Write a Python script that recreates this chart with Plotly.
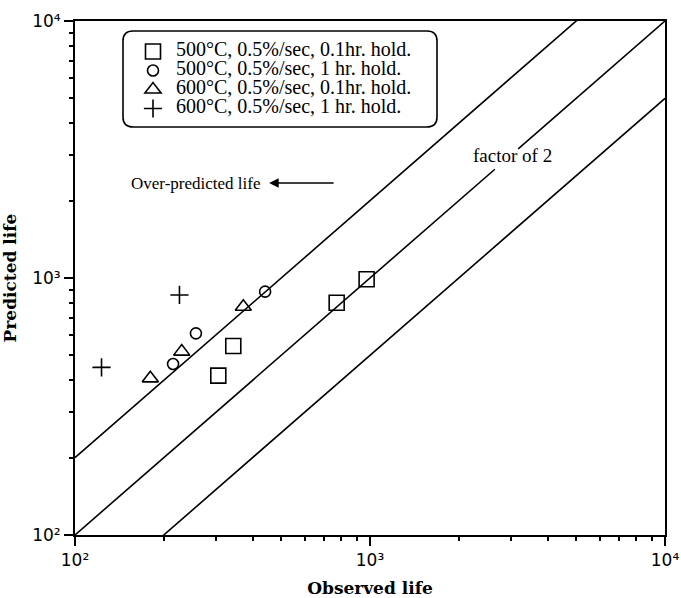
import plotly.graph_objects as go
import numpy as np

# ---- data ----
sq_obs = [306, 344, 771, 974]
sq_pred = [417, 544, 801, 989]
ci_obs = [215, 257, 441]
ci_pred = [463, 609, 885]
tr_obs = [180, 230, 372]
tr_pred = [407, 517, 773]
pl_obs = [123, 226]
pl_pred = [449, 859]

series_names = [
    "500°C, 0.5%/sec, 0.1hr. hold.",
    "500°C, 0.5%/sec, 1 hr. hold.",
    "600°C, 0.5%/sec, 0.1hr. hold.",
    "600°C, 0.5%/sec, 1 hr. hold.",
]

# reference lines y = factor * x
line_factors = [2.0, 1.0, 0.5]
line_x = [100, 10000]
gap_x = [2650, 3180]  # gap in the y=x line for the "factor of 2" label

major = [100, 1000, 10000]
major_text = ["10²", "10³", "10⁴"]
minor = [m * d for d in (100, 1000) for m in range(2, 10)]

fig = go.Figure()

# diagonal lines
for f in line_factors:
    if f == 1.0:
        segs = [[line_x[0], gap_x[0]], [gap_x[1], line_x[1]]]
    else:
        segs = [line_x]
    for s in segs:
        xs = np.array(s, dtype=float)
        fig.add_trace(go.Scatter(x=xs, y=xs * f, mode="lines",
                                 line=dict(color="black", width=1.6),
                                 showlegend=False, hoverinfo="skip"))

mk_line = dict(color="black", width=1.6)
span = '<span style="font-size:20px">{}</span>'
fig.add_trace(go.Scatter(x=sq_obs, y=sq_pred, mode="markers", name=span.format(series_names[0]),
                         marker=dict(symbol="square-open", size=15, color="black", line=mk_line)))
fig.add_trace(go.Scatter(x=ci_obs, y=ci_pred, mode="markers", name=span.format(series_names[1]),
                         marker=dict(symbol="circle-open", size=11, color="black", line=mk_line)))
fig.add_trace(go.Scatter(x=tr_obs, y=tr_pred, mode="markers", name=span.format(series_names[2]),
                         marker=dict(symbol="triangle-up-open", size=14, color="black", line=mk_line)))
fig.add_trace(go.Scatter(x=pl_obs, y=pl_pred, mode="markers", name=span.format(series_names[3]),
                         marker=dict(symbol="cross-thin-open", size=13, color="black", line=mk_line)))

axis_common = dict(
    type="log", range=[2, 4], tickmode="array", tickvals=major, ticktext=major_text,
    ticks="outside", ticklen=9, tickwidth=2, tickcolor="black",
    showline=True, linewidth=2, linecolor="black", mirror=True,
    showgrid=False, zeroline=False, automargin=False,
    tickfont=dict(family="DejaVu Sans", size=17, color="black"),
    minor=dict(tickmode="array", tickvals=minor, ticks="outside", ticklen=4,
               tickwidth=1.5, tickcolor="black", showgrid=False),
)

fig.update_layout(
    width=681, height=598,
    margin=dict(l=75, r=16, t=21, b=63),
    paper_bgcolor="white", plot_bgcolor="white",
    xaxis=dict(axis_common, title=dict(text="Observed life", standoff=22,
               font=dict(family="DejaVu Serif", size=17, color="black", weight="bold"))),
    yaxis=dict(axis_common, title=dict(text="Predicted life", standoff=16,
               font=dict(family="DejaVu Serif", size=17, color="black", weight="bold"))),
    legend=dict(x=(130 - 75) / 590, y=(535 - 37) / 514, xanchor="left", yanchor="top",
                bgcolor="rgba(0,0,0,0)", borderwidth=0,
                font=dict(family="Liberation Serif", size=12, color="black"),
                itemwidth=36),
    showlegend=True,
)

# rounded legend box
x0, x1 = (123 - 75) / 590, (437 - 75) / 590
y1, y0 = (535 - 31) / 514, (535 - 127) / 514
rx, ry = 10 / 590, 10 / 514
path = (f"M {x0+rx},{y1} L {x1-rx},{y1} Q {x1},{y1} {x1},{y1-ry} "
        f"L {x1},{y0+ry} Q {x1},{y0} {x1-rx},{y0} L {x0+rx},{y0} "
        f"Q {x0},{y0} {x0},{y0+ry} L {x0},{y1-ry} Q {x0},{y1} {x0+rx},{y1} Z")
fig.add_shape(type="path", path=path, xref="paper", yref="paper",
              line=dict(color="black", width=1.6), fillcolor="rgba(0,0,0,0)")

fig.add_annotation(x=np.log10(3045), y=np.log10(3010), xref="x", yref="y",
                   text="factor of 2", showarrow=False,
                   font=dict(family="Liberation Serif", size=19, color="black"))
fig.add_annotation(x=np.log10(431), y=np.log10(2342), xref="x", yref="y",
                   text="Over-predicted life", showarrow=False, xanchor="right",
                   font=dict(family="Liberation Serif", size=17, color="black"))
fig.add_annotation(x=np.log10(455), y=np.log10(2342), xref="x", yref="y",
                   text="", showarrow=True, ax=66, ay=0,
                   arrowhead=2, arrowsize=1.2, arrowwidth=1.6, arrowcolor="black")

fig.write_html("out.html")
